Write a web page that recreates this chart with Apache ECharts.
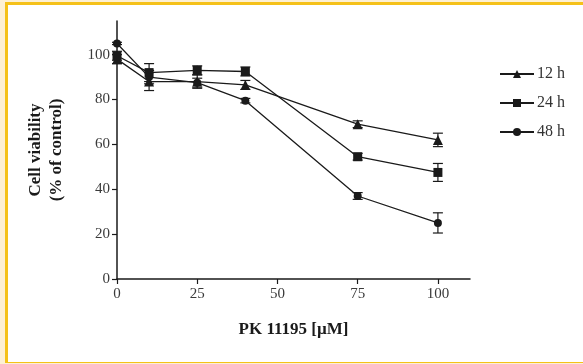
<!DOCTYPE html>
<html>
<head>
<meta charset="utf-8">
<style>
  html, body { margin: 0; padding: 0; background: #ffffff; }
  #frame { position: absolute; left: 0; top: 0; width: 583px; height: 364px; background: #fdf0d3; }
  #inner { position: absolute; left: 5px; top: 2px; width: 578px; height: 361px; background: #ffffff;
           border-left: 3px solid #f5c119; border-top: 3px solid #f5c119; border-bottom: 1px solid #f5c119; box-sizing: border-box; }
  #chart { position: absolute; left: 0; top: 0; width: 583px; height: 364px; }
</style>
<script src="https://cdn.jsdelivr.net/npm/echarts@6/dist/echarts.min.js"></script>
</head>
<body>
<div id="frame"><div id="inner"></div></div>
<div id="chart"></div>
<script>
const DOSES = [0, 10, 25, 40, 75, 100];
const SERIES_NAMES = ["12 h", "24 h", "48 h"];
const MEANS_12H = [98, 88, 88, 86.5, 69, 62];
const MEANS_24H = [99.5, 92, 93, 92.5, 54.5, 47.5];
const MEANS_48H = [105, 90, 87.5, 79.5, 37, 25];
const SD_12H = [2, 4, 3, 2, 1.5, 3];
const SD_24H = [2, 4, 2, 2, 1.5, 4];
const SD_48H = [0.5, 3, 2, 1, 1.5, 4.5];
const X_TICKS = [0, 25, 50, 75, 100];
const Y_TICKS = [0, 20, 40, 60, 80, 100];

const SERIF = "'Liberation Serif', 'DejaVu Serif', serif";
const INK = "#1a1a1a";

const groups = [
  { name: SERIES_NAMES[0], means: MEANS_12H, sd: SD_12H, symbol: "triangle", size: 10 },
  { name: SERIES_NAMES[1], means: MEANS_24H, sd: SD_24H, symbol: "rect", size: 9 },
  { name: SERIES_NAMES[2], means: MEANS_48H, sd: SD_48H, symbol: "circle", size: 8 }
];

const series = [];

groups.forEach(g => {
  // error bars drawn under the markers
  series.push({
    name: g.name + " error",
    type: "custom",
    silent: true,
    z: 1,
    itemStyle: { color: INK },
    renderItem(params, api) {
      const x = api.value(0);
      const lo = api.coord([x, api.value(1)]);
      const hi = api.coord([x, api.value(2)]);
      const cap = 5;
      const style = { stroke: INK, lineWidth: 1.2 };
      return {
        type: "group",
        children: [
          { type: "line", shape: { x1: lo[0], y1: lo[1], x2: hi[0], y2: hi[1] }, style },
          { type: "line", shape: { x1: lo[0] - cap, y1: lo[1], x2: lo[0] + cap, y2: lo[1] }, style },
          { type: "line", shape: { x1: hi[0] - cap, y1: hi[1], x2: hi[0] + cap, y2: hi[1] }, style }
        ]
      };
    },
    data: DOSES.map((d, i) => [d, g.means[i] - g.sd[i], g.means[i] + g.sd[i]])
  });
  series.push({
    name: g.name,
    type: "line",
    symbol: g.symbol,
    symbolSize: g.size,
    showAllSymbol: true,
    z: 3,
    lineStyle: { color: INK, width: 1.3 },
    itemStyle: { color: INK },
    data: DOSES.map((d, i) => [d, g.means[i]])
  });
});

const chart = echarts.init(document.getElementById("chart"));
chart.setOption({
  animation: false,
  backgroundColor: "transparent",
  color: [INK],
  grid: { left: 117, top: 21, right: 113, bottom: 85 },
  legend: {
    orient: "vertical",
    left: 494,
    top: 61,
    itemWidth: 34,
    itemHeight: 10,
    itemGap: 13,
    data: SERIES_NAMES,
    textStyle: { fontFamily: SERIF, fontSize: 16, color: "#333333", padding: [0, 0, 0, -2] }
  },
  xAxis: {
    type: "value",
    min: 0,
    max: 110,
    name: "PK 11195 [µM]",
    nameLocation: "middle",
    nameGap: 42,
    nameTextStyle: { fontFamily: SERIF, fontSize: 17, fontWeight: "bold", color: INK },
    axisLine: { lineStyle: { color: INK, width: 1.5 } },
    axisTick: { length: 5, customValues: X_TICKS, lineStyle: { color: INK, width: 1.2 } },
    axisLabel: { customValues: X_TICKS, fontFamily: SERIF, fontSize: 15, color: "#3a3a3a", margin: 8 },
    splitLine: { show: false }
  },
  yAxis: {
    type: "value",
    min: 0,
    max: 115,
    name: "Cell viability\n(% of control)",
    nameLocation: "middle",
    nameGap: 50,
    nameRotate: 90,
    nameTextStyle: { fontFamily: SERIF, fontSize: 17, fontWeight: "bold", color: INK, lineHeight: 21 },
    axisLine: { show: true, lineStyle: { color: INK, width: 1.5 } },
    axisTick: { show: true, length: 5, customValues: Y_TICKS, lineStyle: { color: INK, width: 1.2 } },
    axisLabel: { customValues: Y_TICKS, fontFamily: SERIF, fontSize: 15, color: "#3a3a3a", margin: 7 },
    splitLine: { show: false }
  },
  series
});
</script>
</body>
</html>
